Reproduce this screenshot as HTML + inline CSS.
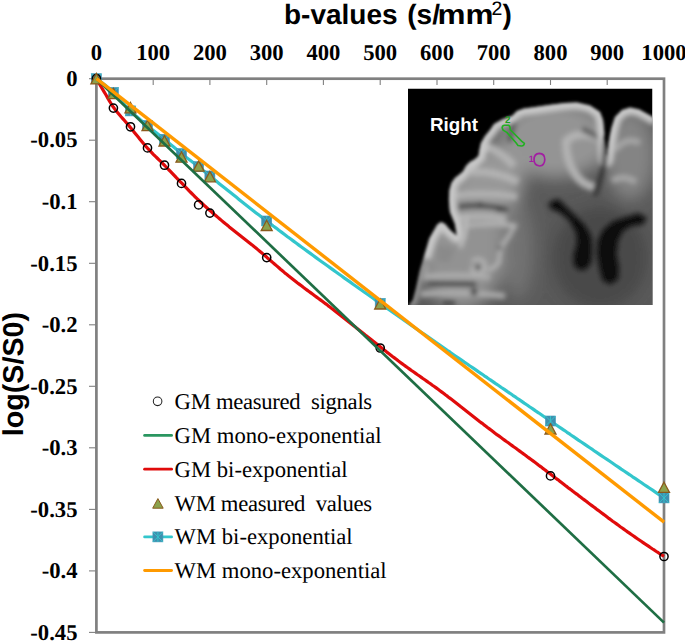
<!DOCTYPE html>
<html><head><meta charset="utf-8"><style>
html,body{margin:0;padding:0;background:#fff;}
svg{display:block;text-rendering:geometricPrecision;}
.tl{font-family:"Liberation Serif",serif;font-weight:bold;font-size:22.67px;fill:#000;}
.tt{font-family:"Liberation Sans",sans-serif;font-weight:bold;font-size:28px;fill:#000;}
.lg{font-family:"Liberation Serif",serif;font-size:22.67px;fill:#000;}
.rt{font-family:"Liberation Sans",sans-serif;font-weight:bold;font-size:18.8px;fill:#fff;}
</style></head><body>
<svg width="685" height="642" viewBox="0 0 685 642">
<rect width="685" height="642" fill="#fff"/>
<defs>
<clipPath id="bc"><rect x="408" y="88.5" width="244.5" height="216.5"/></clipPath>
<clipPath id="bs"><path d="M409,305 L412.9,300 L415.8,289 L419.7,271.5 L423.6,258 L429.4,238.4 L437.2,224.8 L441,222 L445,224 L450,230 L457,236 L455,224 L450,212 L448.9,199.5 L449.5,190 L451.5,183 L455,178 L459,175 L463,171.5 L466,166 L470,162 L474.5,159.5 L478.5,156 L479.5,150 L481,143 L485,136 L490,130 L494,124 L503,119 L512,116 L517,111 L524,108.5 L532,107.5 L549,105 L565,103 L577,102.5 L590,105.5 L600,112 L603,120 L604.5,135 L605.5,150 L606,160 L609,140 L611.5,128 L615,117 L622,110 L630,107.5 L639.3,109.5 L651,116 L656,119 L656,310 L405,310 Z"/></clipPath>
<filter id="bl" x="-5%" y="-5%" width="110%" height="110%"><feGaussianBlur stdDeviation="1.6"/></filter>
<filter id="bl2" x="-30%" y="-30%" width="160%" height="160%"><feGaussianBlur stdDeviation="8"/></filter>
<filter id="bl3" x="-30%" y="-30%" width="160%" height="160%"><feGaussianBlur stdDeviation="2.2"/></filter>
</defs>
<g clip-path="url(#bc)">
<rect x="408" y="88.5" width="244.5" height="216.5" fill="#000"/>
<g filter="url(#bl)">
<g clip-path="url(#bs)">
<rect x="405" y="95" width="255" height="215" fill="#5a5a5a"/>
<!-- regional brightness -->
<g filter="url(#bl2)">
<ellipse cx="555" cy="140" rx="55" ry="38" fill="#949494"/>
<ellipse cx="462" cy="240" rx="45" ry="70" fill="#929292"/>
<ellipse cx="492" cy="180" rx="32" ry="35" fill="#989898"/>
<ellipse cx="630" cy="155" rx="25" ry="45" fill="#848484"/>
<ellipse cx="518" cy="250" rx="16" ry="50" fill="#727272"/>
<ellipse cx="600" cy="258" rx="48" ry="52" fill="#4a4a4a"/>
</g>
<g filter="url(#bl3)">
<!-- inner gyri (bright) -->
<path d="M598,138 Q578,130 566,141 Q566,160 574,172 Q582,186 596,187" fill="none" stroke="#b2b2b2" stroke-width="8"/>
<path d="M615,150 Q626,136 640,143 M612,181 Q623,174 636,182" fill="none" stroke="#a6a6a6" stroke-width="6"/>
<path d="M453,196 Q485,191 517,197 M457,218 Q485,214 506,219" fill="none" stroke="#b0b0b0" stroke-width="7"/>
<path d="M464,226 Q490,222 517,226" fill="none" stroke="#b4b4b4" stroke-width="4.5"/>
<path d="M514,226 Q510,236 503,244 Q499,252 499,262 Q494,269 487,270 M472,262 Q478,256 484,262 Q486,270 479,274 Q472,274 472,266" fill="none" stroke="#b4b4b4" stroke-width="4"/>
<path d="M483,146 Q500,150 514,166 M470,172 Q495,170 518,182" fill="none" stroke="#b2b2b2" stroke-width="8"/>
<path d="M420,277 Q455,274 490,277 M420,294 Q460,291 505,296" fill="none" stroke="#acacac" stroke-width="6"/>
<path d="M436,245 L455,248 L450,262 L438,262 Z" fill="#8a8a8a"/>
<circle cx="482" cy="148" r="4.5" fill="#c4c4c4"/>
<circle cx="473" cy="164" r="4" fill="#b8b8b8"/>
<circle cx="459" cy="177" r="4" fill="#b4b4b4"/>
<!-- sulci (dark) -->
<ellipse cx="424.5" cy="268" rx="3" ry="6" fill="#b0b0b0"/>
<path d="M443,303 L455,303" stroke="#3a3a3a" stroke-width="4"/>
<path d="M517,112 Q513,126 509,142" fill="none" stroke="#505050" stroke-width="4"/>
<path d="M582,129 Q592,134 600,138" fill="none" stroke="#585858" stroke-width="5"/>
<path d="M428,283.5 L476,284 M458,207 Q480,203 508,210" fill="none" stroke="#4a4a4a" stroke-width="4.5"/>
<g fill="#404040"><circle cx="499.5" cy="209" r="3"/><circle cx="480" cy="205" r="2.8"/><circle cx="478" cy="267.5" r="2.5"/><circle cx="474" cy="292" r="3.5"/><circle cx="500" cy="248" r="2"/></g>
</g>
<!-- outer cortex rim -->
<path d="M409,305 L412.9,300 L415.8,289 L419.7,271.5 L423.6,258" fill="none" stroke="#8e8e8e" stroke-width="10" stroke-linejoin="round" filter="url(#bl3)"/>
<path d="M423.6,258 L429.4,238.4 L437.2,224.8 L441,222 L445,224 L450,230 L457,236 L455,224 L450,212 L448.9,199.5 L449.5,190 L451.5,183 L455,178 L459,175 L463,171.5 L466,166 L470,162 L474.5,159.5 L478.5,156 L479.5,150 L481,143 L485,136 L490,130 L494,124 L503,119 L512,116 L517,111 L524,108.5 L532,107.5 L549,105 L565,103 L577,102.5 L590,105.5 L600,112 L603,120 L604.5,135 L605.5,150 L606,160 L609,140 L611.5,128 L615,117 L622,110 L630,107.5 L639.3,109.5 L651,116 L656,119" fill="none" stroke="#c8c8c8" stroke-width="14" stroke-linejoin="round" filter="url(#bl3)"/>
<!-- M-shaped bright fold at left -->
<path d="M460,248 L465,232 L467,216" fill="none" stroke="#b8b8b8" stroke-width="5" filter="url(#bl3)"/>
<!-- fissure -->
<path d="M608.5,98 L608,120 L606.5,138" fill="none" stroke="#000" stroke-width="6" stroke-linecap="round"/>
<path d="M606,138 L604,165 L600,180 L595,195" fill="none" stroke="#1c1c1c" stroke-width="3.5" filter="url(#bl3)"/>
<!-- ventricles -->
<path d="M551.8,201.8 L558.5,200 L573.6,215.2 L585.3,227 L590.4,237 L591.2,248.8 L590.4,262.2 L585.3,268.9 L578.6,268.9 L574.4,263.9 L574.4,255.5 L577.8,243.7 L576.9,232 L570.2,220.2 L560.1,211.8 L551.8,208.5 L549.2,205.1 Z" fill="#0c0c0c" stroke="#0c0c0c" stroke-width="2" filter="url(#bl3)"/>
<path d="M640.7,215.2 L645.8,218.5 L642.4,223.6 L630.6,225.3 L622.3,230.3 L617.2,240.4 L615.5,253.8 L618.1,268.9 L617.2,279 L610.5,283.2 L603.8,280.6 L600.4,268.9 L597.9,253.8 L598.8,240.4 L603.8,230.3 L613.9,221.9 L627.3,217.7 L637.4,214.3 Z" fill="#0c0c0c" stroke="#0c0c0c" stroke-width="2" filter="url(#bl3)"/>
</g>
</g>
</g>
<!-- ROI markers -->
<path d="M502.1,127.8 Q502.5,125.2 504.5,125.2 L508.5,125.2 Q510.3,126 510.1,128.2 L510.3,129.8 L521.8,141.4 L524.4,143.4 Q523.8,146.2 521.4,146 L518,145.5 L516,142.7 L506.8,132.4 L503.1,130.1 Z" fill="none" stroke="#22b022" stroke-width="1.6" stroke-linejoin="round"/>
<text x="504.9" y="122.6" font-family="Liberation Sans, sans-serif" font-weight="bold" font-size="9.8" fill="#1fa01f">2</text>
<path d="M539.3,153.4 Q544.8,153.6 544.8,159.5 Q544.6,165.5 539.6,166 Q534,165.4 534,159.6 Q534.2,153.6 539.3,153.4 Z" fill="none" stroke="#a21ea2" stroke-width="1.7"/>
<text x="528.8" y="161.6" font-family="Liberation Sans, sans-serif" font-weight="bold" font-size="9" fill="#a21ea2">1</text>
<text x="430" y="130.8" class="rt">Right</text>

<rect x="96.4" y="78.7" width="567.6" height="553.7" fill="none" stroke="#808080" stroke-width="2.7"/>
<line x1="153.2" y1="78.7" x2="153.2" y2="85.0" stroke="#808080" stroke-width="1.1"/>
<line x1="209.9" y1="78.7" x2="209.9" y2="85.0" stroke="#808080" stroke-width="1.1"/>
<line x1="266.7" y1="78.7" x2="266.7" y2="85.0" stroke="#808080" stroke-width="1.1"/>
<line x1="323.4" y1="78.7" x2="323.4" y2="85.0" stroke="#808080" stroke-width="1.1"/>
<line x1="380.2" y1="78.7" x2="380.2" y2="85.0" stroke="#808080" stroke-width="1.1"/>
<line x1="437.0" y1="78.7" x2="437.0" y2="85.0" stroke="#808080" stroke-width="1.1"/>
<line x1="493.7" y1="78.7" x2="493.7" y2="85.0" stroke="#808080" stroke-width="1.1"/>
<line x1="550.5" y1="78.7" x2="550.5" y2="85.0" stroke="#808080" stroke-width="1.1"/>
<line x1="607.2" y1="78.7" x2="607.2" y2="85.0" stroke="#808080" stroke-width="1.1"/>
<line x1="89.0" y1="78.7" x2="96.4" y2="78.7" stroke="#808080" stroke-width="1.1"/>
<line x1="89.0" y1="140.2" x2="96.4" y2="140.2" stroke="#808080" stroke-width="1.1"/>
<line x1="89.0" y1="201.7" x2="96.4" y2="201.7" stroke="#808080" stroke-width="1.1"/>
<line x1="89.0" y1="263.3" x2="96.4" y2="263.3" stroke="#808080" stroke-width="1.1"/>
<line x1="89.0" y1="324.8" x2="96.4" y2="324.8" stroke="#808080" stroke-width="1.1"/>
<line x1="89.0" y1="386.3" x2="96.4" y2="386.3" stroke="#808080" stroke-width="1.1"/>
<line x1="89.0" y1="447.8" x2="96.4" y2="447.8" stroke="#808080" stroke-width="1.1"/>
<line x1="89.0" y1="509.4" x2="96.4" y2="509.4" stroke="#808080" stroke-width="1.1"/>
<line x1="89.0" y1="570.9" x2="96.4" y2="570.9" stroke="#808080" stroke-width="1.1"/>
<line x1="89.0" y1="632.4" x2="96.4" y2="632.4" stroke="#808080" stroke-width="1.1"/>
<text x="96.4" y="60.4" class="tl" text-anchor="middle">0</text>
<text x="153.2" y="60.4" class="tl" text-anchor="middle">100</text>
<text x="209.9" y="60.4" class="tl" text-anchor="middle">200</text>
<text x="266.7" y="60.4" class="tl" text-anchor="middle">300</text>
<text x="323.4" y="60.4" class="tl" text-anchor="middle">400</text>
<text x="380.2" y="60.4" class="tl" text-anchor="middle">500</text>
<text x="437.0" y="60.4" class="tl" text-anchor="middle">600</text>
<text x="493.7" y="60.4" class="tl" text-anchor="middle">700</text>
<text x="550.5" y="60.4" class="tl" text-anchor="middle">800</text>
<text x="607.2" y="60.4" class="tl" text-anchor="middle">900</text>
<text x="664.0" y="60.4" class="tl" text-anchor="middle">1000</text>
<text x="77.5" y="85.9" class="tl" text-anchor="end">0</text>
<text x="77.5" y="147.4" class="tl" text-anchor="end">-0.05</text>
<text x="77.5" y="208.9" class="tl" text-anchor="end">-0.1</text>
<text x="77.5" y="270.5" class="tl" text-anchor="end">-0.15</text>
<text x="77.5" y="332.0" class="tl" text-anchor="end">-0.2</text>
<text x="77.5" y="393.5" class="tl" text-anchor="end">-0.25</text>
<text x="77.5" y="455.0" class="tl" text-anchor="end">-0.3</text>
<text x="77.5" y="516.6" class="tl" text-anchor="end">-0.35</text>
<text x="77.5" y="578.1" class="tl" text-anchor="end">-0.4</text>
<text x="77.5" y="639.6" class="tl" text-anchor="end">-0.45</text>
<text x="284" y="24" class="tt">b-values</text>
<text x="407.3" y="24" class="tt">(s/</text>
<text x="437.5" y="24" class="tt" textLength="56" lengthAdjust="spacingAndGlyphs">mm</text>
<text x="491.5" y="15.4" font-family="Liberation Sans, sans-serif" font-size="19.5">2</text>
<text x="502.5" y="24" class="tt">)</text>
<text transform="translate(23.3,436.3) rotate(-90)" class="tt" style="font-size:28.7px">log(S/S0)</text>
<polyline points="96.4,78.7 99.3,80.7 102.1,82.8 105.0,85.0 107.8,87.4 110.7,89.9 113.5,92.5 116.4,95.3 119.2,98.4 122.1,101.7 124.9,105.0 127.8,108.2 130.6,111.1 133.5,113.7 136.3,116.3 139.2,118.7 142.0,121.1 144.9,123.4 147.7,125.8 150.6,128.2 153.4,130.4 156.3,132.7 159.1,135.0 162.0,137.3 164.9,139.6 167.7,142.0 170.6,144.4 173.4,146.8 176.3,149.2 179.1,151.6 182.0,153.9 184.8,156.2 187.7,158.4 190.5,160.5 193.4,162.7 196.2,164.9 199.1,167.1 201.9,169.4 204.8,171.8 207.6,174.1 210.5,176.5 213.3,178.8 216.2,181.1 219.0,183.4 221.9,185.7 224.8,188.0 227.6,190.3 230.5,192.6 233.3,194.8 236.2,197.1 239.0,199.4 241.9,201.7 244.7,203.9 247.6,206.2 250.4,208.4 253.3,210.7 256.1,212.9 259.0,215.1 261.8,217.3 264.7,219.5 267.5,221.7 270.4,223.8 273.2,226.0 276.1,228.1 278.9,230.3 281.8,232.4 284.6,234.5 287.5,236.7 290.4,238.8 293.2,240.9 296.1,243.0 298.9,245.1 301.8,247.2 304.6,249.3 307.5,251.4 310.3,253.4 313.2,255.5 316.0,257.6 318.9,259.7 321.7,261.7 324.6,263.8 327.4,265.8 330.3,267.9 333.1,269.9 336.0,272.0 338.8,274.0 341.7,276.0 344.5,278.1 347.4,280.1 350.3,282.1 353.1,284.2 356.0,286.2 358.8,288.2 361.7,290.3 364.5,292.3 367.4,294.3 370.2,296.3 373.1,298.3 375.9,300.4 378.8,302.4 381.6,304.4 384.5,306.4 387.3,308.4 390.2,310.5 393.0,312.5 395.9,314.5 398.7,316.5 401.6,318.5 404.4,320.5 407.3,322.5 410.1,324.5 413.0,326.5 415.9,328.5 418.7,330.5 421.6,332.5 424.4,334.4 427.3,336.4 430.1,338.4 433.0,340.4 435.8,342.4 438.7,344.3 441.5,346.3 444.4,348.3 447.2,350.3 450.1,352.2 452.9,354.2 455.8,356.2 458.6,358.1 461.5,360.1 464.3,362.1 467.2,364.0 470.0,366.0 472.9,367.9 475.8,369.9 478.6,371.9 481.5,373.8 484.3,375.8 487.2,377.7 490.0,379.7 492.9,381.6 495.7,383.6 498.6,385.5 501.4,387.5 504.3,389.4 507.1,391.4 510.0,393.3 512.8,395.3 515.7,397.2 518.5,399.2 521.4,401.1 524.2,403.1 527.1,405.0 529.9,407.0 532.8,408.9 535.6,410.9 538.5,412.8 541.4,414.8 544.2,416.7 547.1,418.7 549.9,420.6 552.8,422.6 555.6,424.5 558.5,426.5 561.3,428.4 564.2,430.3 567.0,432.3 569.9,434.2 572.7,436.2 575.6,438.1 578.4,440.1 581.3,442.0 584.1,443.9 587.0,445.9 589.8,447.8 592.7,449.7 595.5,451.7 598.4,453.6 601.3,455.6 604.1,457.5 607.0,459.4 609.8,461.3 612.7,463.3 615.5,465.2 618.4,467.1 621.2,469.1 624.1,471.0 626.9,472.9 629.8,474.8 632.6,476.8 635.5,478.7 638.3,480.6 641.2,482.5 644.0,484.5 646.9,486.4 649.7,488.3 652.6,490.2 655.4,492.1 658.3,494.1 661.1,496.0 664.0,497.9" fill="none" stroke="#33c6cc" stroke-width="3.2" stroke-linejoin="round"/>
<rect x="91.4" y="73.7" width="10" height="10" fill="#3f8fae" stroke="#3f9ab8" stroke-width="0.6"/><path d="M91.4,73.7L101.4,83.7M101.4,73.7L91.4,83.7M96.4,73.7L96.4,83.7" stroke="#33c6cc" stroke-width="0.9"/>
<rect x="108.4" y="87.4" width="10" height="10" fill="#3f8fae" stroke="#3f9ab8" stroke-width="0.6"/><path d="M108.4,87.4L118.4,97.4M118.4,87.4L108.4,97.4M113.4,87.4L113.4,97.4" stroke="#33c6cc" stroke-width="0.9"/>
<rect x="125.5" y="105.9" width="10" height="10" fill="#3f8fae" stroke="#3f9ab8" stroke-width="0.6"/><path d="M125.5,105.9L135.5,115.9M135.5,105.9L125.5,115.9M130.5,105.9L130.5,115.9" stroke="#33c6cc" stroke-width="0.9"/>
<rect x="142.5" y="120.6" width="10" height="10" fill="#3f8fae" stroke="#3f9ab8" stroke-width="0.6"/><path d="M142.5,120.6L152.5,130.6M152.5,120.6L142.5,130.6M147.5,120.6L147.5,130.6" stroke="#33c6cc" stroke-width="0.9"/>
<rect x="159.5" y="134.3" width="10" height="10" fill="#3f8fae" stroke="#3f9ab8" stroke-width="0.6"/><path d="M159.5,134.3L169.5,144.3M169.5,134.3L159.5,144.3M164.5,134.3L164.5,144.3" stroke="#33c6cc" stroke-width="0.9"/>
<rect x="176.5" y="148.6" width="10" height="10" fill="#3f8fae" stroke="#3f9ab8" stroke-width="0.6"/><path d="M176.5,148.6L186.5,158.6M186.5,148.6L176.5,158.6M181.5,148.6L181.5,158.6" stroke="#33c6cc" stroke-width="0.9"/>
<rect x="193.6" y="161.7" width="10" height="10" fill="#3f8fae" stroke="#3f9ab8" stroke-width="0.6"/><path d="M193.6,161.7L203.6,171.7M203.6,161.7L193.6,171.7M198.6,161.7L198.6,171.7" stroke="#33c6cc" stroke-width="0.9"/>
<rect x="204.9" y="171.0" width="10" height="10" fill="#3f8fae" stroke="#3f9ab8" stroke-width="0.6"/><path d="M204.9,171.0L214.9,181.0M214.9,171.0L204.9,181.0M209.9,171.0L209.9,181.0" stroke="#33c6cc" stroke-width="0.9"/>
<rect x="261.7" y="216.0" width="10" height="10" fill="#3f8fae" stroke="#3f9ab8" stroke-width="0.6"/><path d="M261.7,216.0L271.7,226.0M271.7,216.0L261.7,226.0M266.7,216.0L266.7,226.0" stroke="#33c6cc" stroke-width="0.9"/>
<rect x="375.2" y="298.4" width="10" height="10" fill="#3f8fae" stroke="#3f9ab8" stroke-width="0.6"/><path d="M375.2,298.4L385.2,308.4M385.2,298.4L375.2,308.4M380.2,298.4L380.2,308.4" stroke="#33c6cc" stroke-width="0.9"/>
<rect x="545.5" y="416.0" width="10" height="10" fill="#3f8fae" stroke="#3f9ab8" stroke-width="0.6"/><path d="M545.5,416.0L555.5,426.0M555.5,416.0L545.5,426.0M550.5,416.0L550.5,426.0" stroke="#33c6cc" stroke-width="0.9"/>
<rect x="659.0" y="492.9" width="10" height="10" fill="#3f8fae" stroke="#3f9ab8" stroke-width="0.6"/><path d="M659.0,492.9L669.0,502.9M669.0,492.9L659.0,502.9M664.0,492.9L664.0,502.9" stroke="#33c6cc" stroke-width="0.9"/>
<polyline points="96.4,78.7 98.3,82.0 100.2,85.2 102.1,88.4 104.0,91.6 105.9,94.8 107.8,98.1 109.7,101.4 111.6,104.5 113.5,107.3 115.4,109.9 117.3,112.3 119.2,114.6 121.1,116.8 123.0,118.9 124.9,121.0 126.8,123.2 128.7,125.4 130.6,127.7 132.5,130.0 134.4,132.4 136.3,134.8 138.2,137.1 140.1,139.5 142.0,141.8 143.9,144.1 145.8,146.3 147.7,148.4 149.6,150.4 151.5,152.4 153.3,154.3 155.2,156.2 157.1,158.0 159.0,159.9 160.9,161.7 162.8,163.6 164.7,165.5 166.6,167.5 168.5,169.5 170.4,171.4 172.3,173.4 174.2,175.4 176.1,177.4 178.0,179.3 179.9,181.3 181.8,183.2 183.7,185.2 185.6,187.2 187.5,189.1 189.4,191.1 191.3,193.0 193.2,194.9 195.1,196.8 197.0,198.7 198.9,200.5 200.8,202.3 202.7,204.0 204.6,205.8 206.5,207.5 208.4,209.2 210.3,210.9 212.2,212.5 214.1,214.2 216.0,215.8 217.9,217.4 219.8,219.0 221.7,220.6 223.6,222.2 225.5,223.8 227.4,225.3 229.3,226.9 231.2,228.4 233.1,229.9 235.0,231.4 236.9,232.9 238.8,234.4 240.7,235.9 242.6,237.4 244.5,238.9 246.4,240.4 248.3,241.9 250.2,243.4 252.1,244.9 254.0,246.5 255.9,248.0 257.8,249.6 259.7,251.2 261.6,252.8 263.5,254.4 265.4,256.0 267.2,257.7 269.1,259.3 271.0,261.0 272.9,262.6 274.8,264.3 276.7,265.9 278.6,267.5 280.5,269.2 282.4,270.8 284.3,272.4 286.2,273.9 288.1,275.5 290.0,277.0 291.9,278.5 293.8,280.0 295.7,281.5 297.6,283.0 299.5,284.4 301.4,285.8 303.3,287.3 305.2,288.7 307.1,290.1 309.0,291.5 310.9,292.9 312.8,294.3 314.7,295.7 316.6,297.1 318.5,298.5 320.4,299.9 322.3,301.3 324.2,302.7 326.1,304.1 328.0,305.6 329.9,307.0 331.8,308.5 333.7,309.9 335.6,311.4 337.5,312.9 339.4,314.4 341.3,315.9 343.2,317.4 345.1,318.9 347.0,320.4 348.9,321.9 350.8,323.4 352.7,324.9 354.6,326.4 356.5,328.0 358.4,329.5 360.3,331.0 362.2,332.5 364.1,334.0 366.0,335.6 367.9,337.1 369.8,338.6 371.7,340.1 373.6,341.6 375.5,343.1 377.4,344.6 379.3,346.1 381.1,347.6 383.0,349.1 384.9,350.6 386.8,352.1 388.7,353.5 390.6,355.0 392.5,356.5 394.4,357.9 396.3,359.3 398.2,360.8 400.1,362.2 402.0,363.6 403.9,365.0 405.8,366.4 407.7,367.7 409.6,369.1 411.5,370.5 413.4,371.8 415.3,373.1 417.2,374.5 419.1,375.8 421.0,377.1 422.9,378.5 424.8,379.8 426.7,381.1 428.6,382.5 430.5,383.8 432.4,385.2 434.3,386.5 436.2,387.9 438.1,389.3 440.0,390.7 441.9,392.1 443.8,393.5 445.7,395.0 447.6,396.4 449.5,397.9 451.4,399.3 453.3,400.8 455.2,402.3 457.1,403.8 459.0,405.3 460.9,406.8 462.8,408.2 464.7,409.7 466.6,411.2 468.5,412.7 470.4,414.2 472.3,415.7 474.2,417.2 476.1,418.7 478.0,420.2 479.9,421.7 481.8,423.1 483.7,424.6 485.6,426.0 487.5,427.5 489.4,428.9 491.3,430.3 493.2,431.8 495.0,433.2 496.9,434.6 498.8,435.9 500.7,437.3 502.6,438.7 504.5,440.1 506.4,441.5 508.3,442.8 510.2,444.2 512.1,445.6 514.0,447.0 515.9,448.3 517.8,449.7 519.7,451.1 521.6,452.5 523.5,453.9 525.4,455.2 527.3,456.7 529.2,458.1 531.1,459.5 533.0,460.9 534.9,462.3 536.8,463.7 538.7,465.2 540.6,466.6 542.5,468.1 544.4,469.5 546.3,470.9 548.2,472.4 550.1,473.8 552.0,475.3 553.9,476.7 555.8,478.2 557.7,479.6 559.6,481.1 561.5,482.5 563.4,484.0 565.3,485.5 567.2,486.9 569.1,488.4 571.0,489.8 572.9,491.3 574.8,492.7 576.7,494.1 578.6,495.6 580.5,497.0 582.4,498.5 584.3,499.9 586.2,501.3 588.1,502.8 590.0,504.2 591.9,505.6 593.8,507.0 595.7,508.4 597.6,509.9 599.5,511.3 601.4,512.7 603.3,514.1 605.2,515.5 607.1,517.0 608.9,518.4 610.8,519.8 612.7,521.2 614.6,522.5 616.5,523.9 618.4,525.3 620.3,526.7 622.2,528.0 624.1,529.4 626.0,530.7 627.9,532.1 629.8,533.4 631.7,534.7 633.6,536.0 635.5,537.4 637.4,538.7 639.3,540.0 641.2,541.3 643.1,542.6 645.0,543.9 646.9,545.1 648.8,546.4 650.7,547.7 652.6,549.0 654.5,550.2 656.4,551.5 658.3,552.7 660.2,554.0 662.1,555.2 664.0,556.4" fill="none" stroke="#e00b0b" stroke-width="3.2" stroke-linejoin="round"/>
<circle cx="96.4" cy="78.7" r="4.1" fill="none" stroke="#000" stroke-width="1.5"/>
<circle cx="113.4" cy="108.1" r="4.1" fill="none" stroke="#000" stroke-width="1.5"/>
<circle cx="130.5" cy="126.8" r="4.1" fill="none" stroke="#000" stroke-width="1.5"/>
<circle cx="147.5" cy="147.9" r="4.1" fill="none" stroke="#000" stroke-width="1.5"/>
<circle cx="164.5" cy="165.2" r="4.1" fill="none" stroke="#000" stroke-width="1.5"/>
<circle cx="181.5" cy="183.4" r="4.1" fill="none" stroke="#000" stroke-width="1.5"/>
<circle cx="198.6" cy="204.9" r="4.1" fill="none" stroke="#000" stroke-width="1.5"/>
<circle cx="209.9" cy="213.1" r="4.1" fill="none" stroke="#000" stroke-width="1.5"/>
<circle cx="266.7" cy="257.6" r="4.1" fill="none" stroke="#000" stroke-width="1.5"/>
<circle cx="380.2" cy="348.0" r="4.1" fill="none" stroke="#000" stroke-width="1.5"/>
<circle cx="550.5" cy="475.9" r="4.1" fill="none" stroke="#000" stroke-width="1.5"/>
<circle cx="664.0" cy="556.5" r="4.1" fill="none" stroke="#000" stroke-width="1.5"/>
<path d="M96.4,73.5L101.9,83.9L90.9,83.9Z" fill="#8ca24c" stroke="#8a5a1c" stroke-width="1.3" stroke-linejoin="miter"/>
<path d="M113.4,88.3L118.9,98.7L107.9,98.7Z" fill="#8ca24c" stroke="#8a5a1c" stroke-width="1.3" stroke-linejoin="miter"/>
<path d="M130.5,102.5L136.0,112.9L125.0,112.9Z" fill="#8ca24c" stroke="#8a5a1c" stroke-width="1.3" stroke-linejoin="miter"/>
<path d="M147.5,120.3L153.0,130.7L142.0,130.7Z" fill="#8ca24c" stroke="#8a5a1c" stroke-width="1.3" stroke-linejoin="miter"/>
<path d="M164.5,135.7L170.0,146.0L159.0,146.0Z" fill="#8ca24c" stroke="#8a5a1c" stroke-width="1.3" stroke-linejoin="miter"/>
<path d="M181.5,151.8L187.0,162.2L176.0,162.2Z" fill="#8ca24c" stroke="#8a5a1c" stroke-width="1.3" stroke-linejoin="miter"/>
<path d="M198.6,160.9L204.1,171.2L193.1,171.2Z" fill="#8ca24c" stroke="#8a5a1c" stroke-width="1.3" stroke-linejoin="miter"/>
<path d="M209.9,171.5L215.4,181.8L204.4,181.8Z" fill="#8ca24c" stroke="#8a5a1c" stroke-width="1.3" stroke-linejoin="miter"/>
<path d="M266.7,220.2L272.2,230.5L261.2,230.5Z" fill="#8ca24c" stroke="#8a5a1c" stroke-width="1.3" stroke-linejoin="miter"/>
<path d="M380.2,298.8L385.7,309.0L374.7,309.0Z" fill="#8ca24c" stroke="#8a5a1c" stroke-width="1.3" stroke-linejoin="miter"/>
<path d="M550.5,423.8L556.0,434.0L545.0,434.0Z" fill="#8ca24c" stroke="#8a5a1c" stroke-width="1.3" stroke-linejoin="miter"/>
<path d="M664.0,482.2L669.5,492.4L658.5,492.4Z" fill="#8ca24c" stroke="#8a5a1c" stroke-width="1.3" stroke-linejoin="miter"/>
<line x1="96.4" y1="78.7" x2="664" y2="622.6" stroke="#1f6e44" stroke-width="2.7"/>
<line x1="96.4" y1="78.7" x2="664.1" y2="522.2" stroke="#ff9a00" stroke-width="3.4"/>
<circle cx="157.6" cy="401.3" r="4.3" fill="none" stroke="#222" stroke-width="1.05"/>
<line x1="144.6" y1="435.4" x2="171.6" y2="435.4" stroke="#2a9660" stroke-width="2.8" stroke-linecap="round"/>
<line x1="144.6" y1="469.2" x2="171.6" y2="469.2" stroke="#e00b0b" stroke-width="2.8" stroke-linecap="round"/>
<path d="M157.9,498.6L163.2,508.2L152.7,508.2Z" fill="#8ca24c" stroke="#8a5a1c" stroke-width="1" stroke-linejoin="miter"/>
<line x1="144.6" y1="536.9" x2="171.6" y2="536.9" stroke="#33c6cc" stroke-width="2.8" stroke-linecap="round"/>
<rect x="152.9" y="531.9" width="10" height="10" fill="#3f8fae" stroke="#3f9ab8" stroke-width="0.6"/><path d="M152.9,531.9L162.9,541.9M162.9,531.9L152.9,541.9M157.9,531.9L157.9,541.9" stroke="#33c6cc" stroke-width="0.9"/>
<line x1="144.6" y1="570.5" x2="171.6" y2="570.5" stroke="#ff9a00" stroke-width="2.8" stroke-linecap="round"/>
<text x="174.6" y="409.3" class="lg" textLength="197.6" lengthAdjust="spacing">GM measured&#160; signals</text>
<text x="174.6" y="442.8" class="lg">GM mono-exponential</text>
<text x="174.6" y="476.6" class="lg">GM bi-exponential</text>
<text x="174.6" y="510.8" class="lg" textLength="197.5" lengthAdjust="spacing">WM measured&#160; values</text>
<text x="174.6" y="544.3" class="lg">WM bi-exponential</text>
<text x="174.6" y="577.9" class="lg">WM mono-exponential</text>
</svg>
</body></html>
